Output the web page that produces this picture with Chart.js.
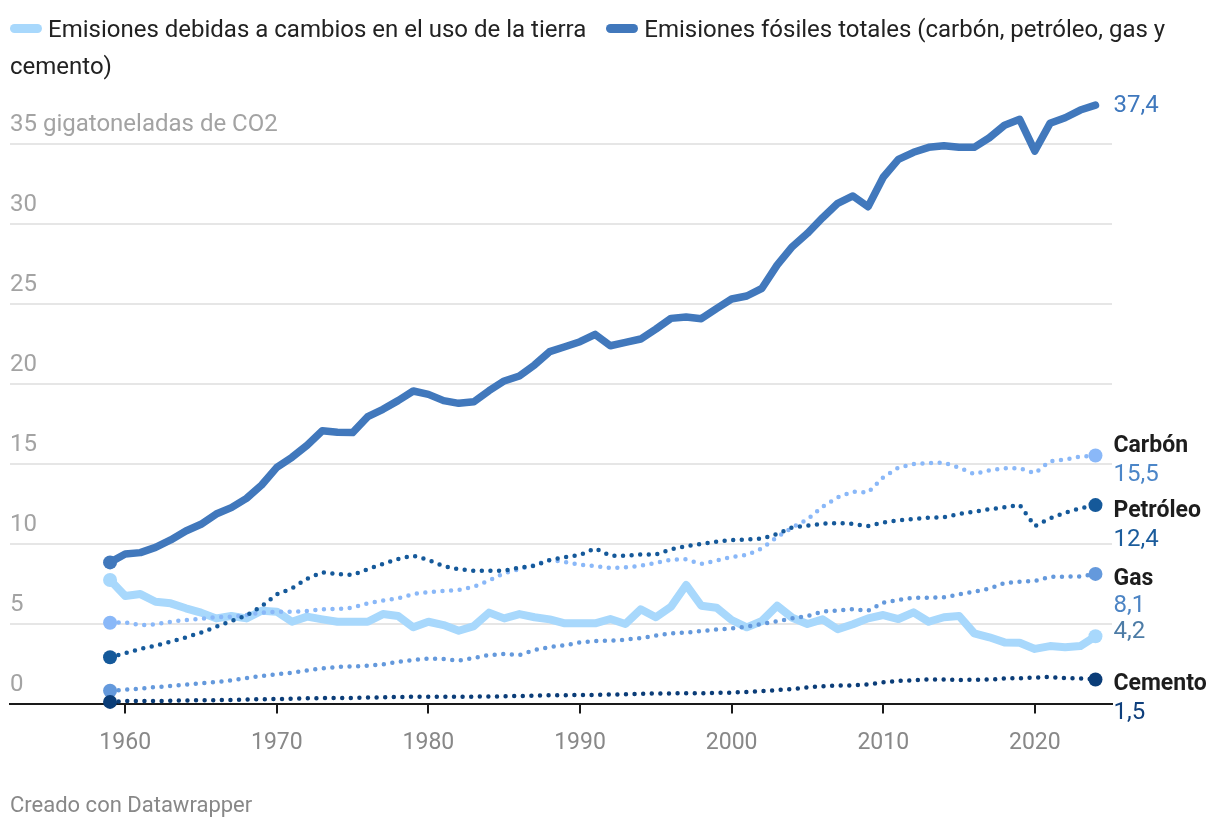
<!DOCTYPE html>
<html lang="es">
<head>
<meta charset="utf-8">
<title>Emisiones de CO2</title>
<script src="https://cdn.jsdelivr.net/npm/chart.js@4.4.1/dist/chart.umd.min.js"></script>
<style>
  html, body { margin: 0; padding: 0; background: #fff; }
  #wrap { position: relative; width: 1220px; height: 832px; font-family: Roboto, sans-serif; }
  #chart { position: absolute; left: 0; top: 0; }
  #legend { position: absolute; left: 10px; top: 11px; width: 1200px; font-size: 24px; line-height: 37px; color: #222; }
  #legend .swatch { display: inline-block; width: 32px; height: 9px; border-radius: 5px; margin-right: 6px; vertical-align: middle; position: relative; top: -2px; }
  #legend .item + .item { margin-left: 14px; }
  #footer { position: absolute; left: 10px; top: 792px; font-size: 22px; color: #888; }
</style>
</head>
<body>
<div id="wrap">
  <canvas id="chart" width="1220" height="832"></canvas>
  <div id="legend">
    <span class="item"><span class="swatch" style="background:#a8d8fc"></span>Emisiones debidas a cambios en el uso de la tierra</span>
    <span class="item"><span class="swatch" style="background:#4178bc"></span>Emisiones fósiles totales (carbón, petróleo, gas y cemento)</span>
  </div>
  <div id="footer">Creado con Datawrapper</div>
</div>
<script>
// años 1959-2024
const years = [
  1959, 1960, 1961, 1962, 1963, 1964, 1965, 1966, 1967, 1968, 1969,
  1970, 1971, 1972, 1973, 1974, 1975, 1976, 1977, 1978, 1979,
  1980, 1981, 1982, 1983, 1984, 1985, 1986, 1987, 1988, 1989,
  1990, 1991, 1992, 1993, 1994, 1995, 1996, 1997, 1998, 1999,
  2000, 2001, 2002, 2003, 2004, 2005, 2006, 2007, 2008, 2009,
  2010, 2011, 2012, 2013, 2014, 2015, 2016, 2017, 2018, 2019,
  2020, 2021, 2022, 2023, 2024
];

// Gt CO2
const fossil = [
  8.82, 9.34, 9.43, 9.76, 10.22, 10.78, 11.2, 11.84, 12.24, 12.82, 13.66,
  14.76, 15.39, 16.14, 17.05, 16.95, 16.93, 17.93, 18.39, 18.93, 19.53,
  19.32, 18.93, 18.76, 18.86, 19.55, 20.16, 20.47, 21.16, 21.99, 22.3,
  22.61, 23.07, 22.36, 22.57, 22.78, 23.4, 24.07, 24.16, 24.05, 24.68,
  25.28, 25.47, 25.95, 27.4, 28.55, 29.39, 30.36, 31.26, 31.72, 31.05,
  32.89, 34.01, 34.45, 34.76, 34.86, 34.76, 34.76, 35.36, 36.14, 36.51,
  34.53, 36.26, 36.61, 37.09, 37.4
];

const landUse = [
  7.72, 6.72, 6.84, 6.36, 6.26, 5.95, 5.68, 5.32, 5.47, 5.32, 5.8,
  5.74, 5.11, 5.43, 5.26, 5.11, 5.11, 5.11, 5.59, 5.47, 4.76,
  5.11, 4.9, 4.55, 4.84, 5.68, 5.32, 5.59, 5.39, 5.26, 5.01,
  5.01, 5.01, 5.28, 4.97, 5.89, 5.39, 6.05, 7.41, 6.11, 5.99,
  5.22, 4.76, 5.16, 6.11, 5.36, 4.97, 5.26, 4.64, 4.95, 5.32,
  5.53, 5.28, 5.7, 5.11, 5.39, 5.47, 4.39, 4.14, 3.82, 3.8,
  3.41, 3.59, 3.51, 3.59, 4.2
];

const coal = [
  5.05, 5.07, 4.9, 4.95, 5.11, 5.22, 5.3, 5.39, 5.43, 5.53, 5.68,
  5.74, 5.74, 5.78, 5.89, 5.91, 5.99, 6.26, 6.43, 6.57, 6.84,
  6.97, 7.03, 7.09, 7.3, 7.68, 8.14, 8.39, 8.66, 8.97, 8.84,
  8.68, 8.59, 8.47, 8.51, 8.61, 8.78, 8.99, 9.01, 8.72, 8.93,
  9.16, 9.28, 9.7, 10.4, 11.0, 11.5, 12.3, 12.89, 13.24, 13.18,
  14.14, 14.74, 14.97, 15.03, 15.05, 14.74, 14.34, 14.57, 14.7, 14.7,
  14.39, 15.14, 15.24, 15.43, 15.5
];

const oil = [
  2.89, 3.14, 3.41, 3.61, 3.86, 4.13, 4.43, 4.8, 5.15, 5.5, 6.07,
  6.82, 7.2, 7.8, 8.2, 8.09, 8.03, 8.4, 8.72, 9.03, 9.24,
  8.97, 8.59, 8.39, 8.3, 8.3, 8.3, 8.49, 8.61, 8.97, 9.14,
  9.28, 9.7, 9.24, 9.24, 9.32, 9.32, 9.64, 9.84, 9.97, 10.11,
  10.22, 10.25, 10.3, 10.6, 11.0, 11.11, 11.24, 11.28, 11.22, 11.09,
  11.32, 11.45, 11.53, 11.61, 11.64, 11.84, 11.99, 12.14, 12.26, 12.41,
  11.09, 11.57, 11.93, 12.2, 12.4
];

const gas = [
  0.8, 0.86, 0.93, 1.03, 1.09, 1.18, 1.26, 1.34, 1.45, 1.59, 1.72,
  1.82, 1.93, 2.07, 2.2, 2.28, 2.32, 2.36, 2.45, 2.6, 2.72,
  2.8, 2.78, 2.68, 2.84, 3.03, 3.09, 3.03, 3.34, 3.53, 3.64,
  3.82, 3.91, 3.93, 3.99, 4.09, 4.24, 4.39, 4.43, 4.53, 4.62,
  4.7, 4.8, 4.97, 5.14, 5.32, 5.47, 5.74, 5.82, 5.89, 5.8,
  6.3, 6.47, 6.61, 6.61, 6.64, 6.82, 6.99, 7.18, 7.53, 7.61,
  7.66, 7.91, 7.93, 7.93, 8.1
];

const cement = [
  0.1, 0.15, 0.15, 0.16, 0.17, 0.19, 0.2, 0.21, 0.22, 0.25, 0.27,
  0.28, 0.3, 0.32, 0.34, 0.34, 0.34, 0.37, 0.39, 0.41, 0.42,
  0.42, 0.42, 0.42, 0.43, 0.44, 0.45, 0.47, 0.49, 0.51, 0.52,
  0.53, 0.54, 0.56, 0.58, 0.61, 0.62, 0.63, 0.64, 0.64, 0.66,
  0.68, 0.72, 0.77, 0.84, 0.91, 1.0, 1.08, 1.12, 1.13, 1.2,
  1.32, 1.41, 1.45, 1.5, 1.5, 1.47, 1.48, 1.5, 1.56, 1.58,
  1.62, 1.66, 1.58, 1.57, 1.5
];

const xTicks = [1960, 1970, 1980, 1990, 2000, 2010, 2020];
const yTicks = [0, 5, 10, 15, 20, 25, 30, 35];
const yUnit = 'gigatoneladas de CO2';

const FONT = 'Roboto, sans-serif';
const last = years.length - 1;

function toPoints(values) {
    return values.map((v, i) => ({ x: years[i], y: v }));
}

function fmt(v) {
    return v.toFixed(1).replace('.', ',');
}

// solo el primer y el último punto
const endsOnly = r => ctx => (ctx.dataIndex === 0 || ctx.dataIndex === last) ? r : 0;

function solidLine(values, color, width, order) {
    return {
        data: toPoints(values),
        borderColor: color,
        backgroundColor: color,
        borderWidth: width,
        borderJoinStyle: 'round',
        borderCapStyle: 'round',
        pointRadius: endsOnly(7),
        pointBackgroundColor: color,
        pointBorderWidth: 0,
        tension: 0,
        clip: false,
        order
    };
}

function dottedLine(values, color, order) {
    return {
        data: toPoints(values),
        borderColor: color,
        backgroundColor: color,
        borderWidth: 4.5,
        borderDash: [0, 8.6],
        borderCapStyle: 'round',
        pointRadius: endsOnly(7),
        pointBackgroundColor: color,
        pointBorderWidth: 0,
        tension: 0,
        clip: false,
        order
    };
}

// etiquetas al final de cada serie
const endLabels = [
    { values: fossil, name: null, color: '#3f78bd', dyValue: 1 },
    { values: coal, name: 'Carbón', color: '#4c86c8', dyName: -9, dyValue: 19 },
    { values: oil, name: 'Petróleo', color: '#1b5c9c', dyName: 6, dyValue: 35 },
    { values: gas, name: 'Gas', color: '#4c84c4', dyName: 5, dyValue: 32 },
    { values: landUse, name: null, color: '#4d7ca6', dyValue: -4 },
    { values: cement, name: 'Cemento', color: '#0e3f7c', dyName: 5, dyValue: 33 }
];

const endLabelPlugin = {
    id: 'endLabels',
    afterDatasetsDraw(chart) {
        const { ctx, scales: { x, y } } = chart;
        const px = x.getPixelForValue(years[last]) + 18;
        ctx.save();
        ctx.textAlign = 'left';
        ctx.textBaseline = 'middle';
        endLabels.forEach(l => {
            const v = l.values[last];
            const py = y.getPixelForValue(v);
            if (l.name) {
                ctx.font = `bold 23px ${FONT}`;
                ctx.fillStyle = '#1d1d1d';
                ctx.fillText(l.name, px, py + l.dyName);
            }
            ctx.font = `24px ${FONT}`;
            ctx.fillStyle = l.color;
            ctx.fillText(fmt(v), px, py + l.dyValue);
        });
        ctx.restore();
    }
};

function drawChart() {
    new Chart(document.getElementById('chart'), {
        type: 'line',
        data: {
            datasets: [
                solidLine(fossil, '#4178bc', 7.5, 1),
                dottedLine(cement, '#0b3d78', 2),
                dottedLine(oil, '#15599a', 3),
                dottedLine(gas, '#6499dc', 4),
                dottedLine(coal, '#8ab8f8', 5),
                solidLine(landUse, '#a8d8fc', 8, 6)
            ]
        },
        options: {
            responsive: false,
            animation: false,
            events: [],
            layout: { padding: { left: 10, right: 108, top: 143.5, bottom: 68.5 } },
            plugins: {
                legend: { display: false },
                tooltip: { enabled: false }
            },
            scales: {
                x: {
                    type: 'linear',
                    min: 1952.4,
                    max: 2025.09,
                    afterBuildTicks: s => { s.ticks = xTicks.map(v => ({ value: v })); },
                    afterFit: s => { s.height = 60; },
                    grid: { drawOnChartArea: false, drawTicks: true, tickLength: 10, color: '#1a1a1a', lineWidth: 2 },
                    border: { display: true, color: '#1a1a1a', width: 2 },
                    ticks: {
                        color: '#888',
                        font: { family: FONT, size: 23 },
                        padding: 16,
                        maxRotation: 0,
                        autoSkip: false,
                        callback: v => String(v)
                    }
                },
                y: {
                    min: 0,
                    max: 35,
                    afterBuildTicks: s => { s.ticks = yTicks.map(v => ({ value: v })); },
                    afterFit: s => { s.width = 0; },
                    grid: {
                        color: ctx => (ctx.tick && ctx.tick.value === 0) ? 'rgba(0,0,0,0)' : '#e6e6e6',
                        lineWidth: 2,
                        drawTicks: false
                    },
                    border: { display: false },
                    ticks: {
                        mirror: true,
                        padding: 0,
                        labelOffset: -19,
                        color: '#a3a3a3',
                        font: { family: FONT, size: 24 },
                        callback: v => v === 35 ? `${v} ${yUnit}` : String(v)
                    }
                }
            }
        },
        plugins: [endLabelPlugin]
    });
}

if (document.fonts && document.fonts.load) {
    Promise.all([
        document.fonts.load(`24px Roboto`),
        document.fonts.load(`bold 23px Roboto`)
    ]).then(drawChart, drawChart);
} else {
    drawChart();
}
</script>
</body>
</html>
